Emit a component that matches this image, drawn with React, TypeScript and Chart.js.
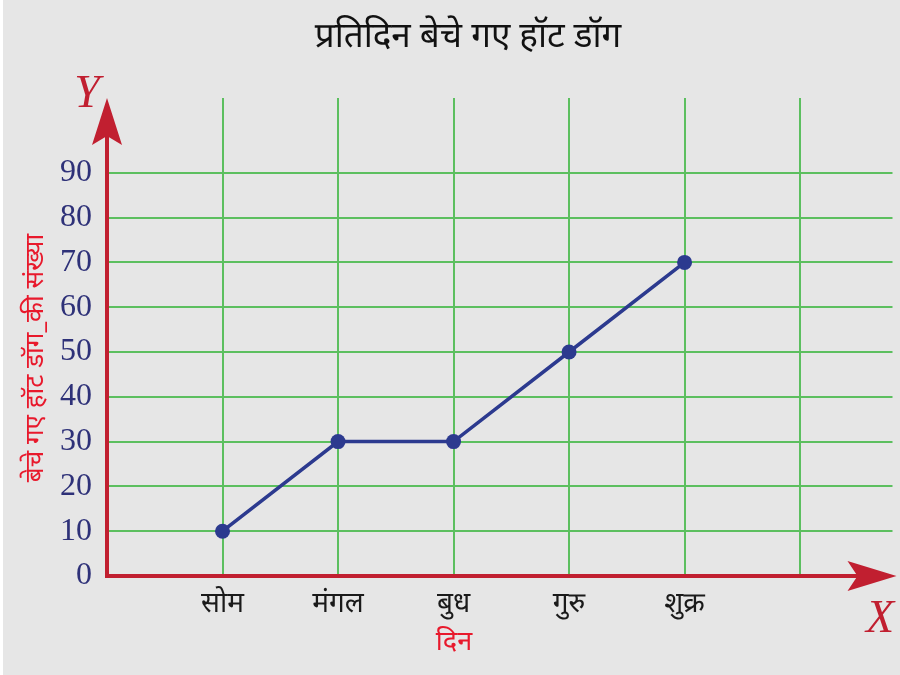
import React, { useEffect, useRef } from "react";
import { Chart, registerables } from "chart.js";

Chart.register(...registerables);

const titleText = "प्रतिदिन बेचे गए हॉट डॉग";
const xAxisTitle = "दिन";
const yAxisTitle = "बेचे गए हॉट डॉग_की संख्या";
const days = ["सोम", "मंगल", "बुध", "गुरु", "शुक्र"];
const hotDogsSold = [10, 30, 30, 50, 70];
const yTickValues = [0, 10, 20, 30, 40, 50, 60, 70, 80, 90];
const xGridValues = [1, 2, 3, 4, 5, 6];

const RED = "#c11f30";
const GREEN = "#5cbf5f";
const NAVY = "#2c3a8f";
const BG = "#e6e6e6";
const DEVA = "'Noto Sans Devanagari', 'Noto Sans', 'Lohit Devanagari', sans-serif";
const SERIF = "'Liberation Serif', 'DejaVu Serif', serif";

const decorPlugin = {
  id: "decor",
  beforeDraw(chart: any) {
    const { ctx, width, height } = chart;
    ctx.save();
    ctx.fillStyle = BG;
    ctx.fillRect(0, 0, width, height);
    ctx.fillStyle = "#ffffff";
    ctx.fillRect(0, 0, 3, height);
    ctx.restore();
  },
  beforeDatasetsDraw(chart: any) {
    const { ctx, chartArea } = chart;
    const x0 = chart.scales.x.getPixelForValue(0);
    const y0 = chart.scales.y.getPixelForValue(0);
    ctx.save();
    ctx.strokeStyle = RED;
    ctx.fillStyle = RED;
    ctx.lineWidth = 4;
    // y axis
    ctx.beginPath();
    ctx.moveTo(x0, y0 + 2);
    ctx.lineTo(x0, chartArea.top + 20);
    ctx.stroke();
    ctx.beginPath();
    ctx.moveTo(x0, chartArea.top);
    ctx.lineTo(x0 - 15, chartArea.top + 47);
    ctx.lineTo(x0, chartArea.top + 38);
    ctx.lineTo(x0 + 15, chartArea.top + 47);
    ctx.closePath();
    ctx.fill();
    // x axis
    const tipX = chartArea.right + 4;
    ctx.beginPath();
    ctx.moveTo(x0 - 2, y0);
    ctx.lineTo(tipX - 20, y0);
    ctx.stroke();
    ctx.beginPath();
    ctx.moveTo(tipX, y0);
    ctx.lineTo(tipX - 49, y0 - 15);
    ctx.lineTo(tipX - 39, y0);
    ctx.lineTo(tipX - 49, y0 + 15);
    ctx.closePath();
    ctx.fill();
    ctx.restore();
  },
  afterDraw(chart: any) {
    const { ctx } = chart;
    ctx.save();
    ctx.textAlign = "center";
    ctx.textBaseline = "middle";
    ctx.fillStyle = "#111111";
    ctx.font = `35px ${DEVA}`;
    ctx.fillText(titleText, 468, 40);
    ctx.fillStyle = RED;
    ctx.font = `italic 46px ${SERIF}`;
    ctx.fillText("Y", 87, 95);
    ctx.fillText("X", 880, 620);
    ctx.fillStyle = "#e8192c";
    ctx.font = `27px ${DEVA}`;
    ctx.fillText(xAxisTitle, 454, 645);
    ctx.translate(38, 358);
    ctx.rotate(-Math.PI / 2);
    ctx.font = `26px ${DEVA}`;
    ctx.fillText(yAxisTitle, 0, 0);
    ctx.restore();
  },
};

export default function App() {
  const ref = useRef<HTMLCanvasElement | null>(null);
  useEffect(() => {
    if (!ref.current) return;
    const chart = new Chart(ref.current, {
      type: "line",
      data: {
        datasets: [
          {
            data: hotDogsSold.map((v, i) => ({ x: i + 1, y: v })),
            borderColor: NAVY,
            backgroundColor: NAVY,
            borderWidth: 3.5,
            pointRadius: 7.5,
            pointBackgroundColor: NAVY,
            pointBorderWidth: 0,
            tension: 0,
          },
        ],
      },
      plugins: [decorPlugin],
      options: {
        animation: false,
        responsive: false,
        maintainAspectRatio: false,
        layout: { padding: { left: 0, right: 7, top: 98, bottom: 0 } },
        plugins: {
          legend: { display: false },
          tooltip: { enabled: false },
          title: { display: false },
        },
        scales: {
          x: {
            type: "linear",
            min: 0,
            max: 6.8,
            afterBuildTicks: (s: any) => {
              s.ticks = xGridValues.map((v) => ({ value: v }));
            },
            afterFit: (s: any) => {
              s.height = 99;
            },
            ticks: {
              autoSkip: false,
              maxRotation: 0,
              padding: 14,
              color: "#1a1a1a",
              font: { size: 28, family: DEVA },
              callback: (v: any) => days[Number(v) - 1] ?? "",
            },
            grid: {
              color: GREEN,
              lineWidth: 2,
              drawTicks: false,
            },
            border: { display: false },
          },
          y: {
            type: "linear",
            min: 0,
            max: 106.7,
            afterBuildTicks: (s: any) => {
              s.ticks = yTickValues.map((v) => ({ value: v }));
            },
            afterFit: (s: any) => {
              s.width = 107;
            },
            ticks: {
              autoSkip: false,
              padding: 15,
              color: "#2e3178",
              font: { size: 32, family: SERIF },
            },
            grid: {
              color: (c: any) => (c.tick && c.tick.value === 0 ? "rgba(0,0,0,0)" : GREEN),
              lineWidth: 2,
              drawTicks: false,
            },
            border: { display: false },
          },
        },
      },
    } as any);
    return () => chart.destroy();
  }, []);
  return (
    <div style={{ position: "fixed", left: 0, top: 0, width: 900, height: 675, background: BG }}>
      <canvas ref={ref} width={900} height={675} style={{ display: "block", width: 900, height: 675 }} />
    </div>
  );
}
